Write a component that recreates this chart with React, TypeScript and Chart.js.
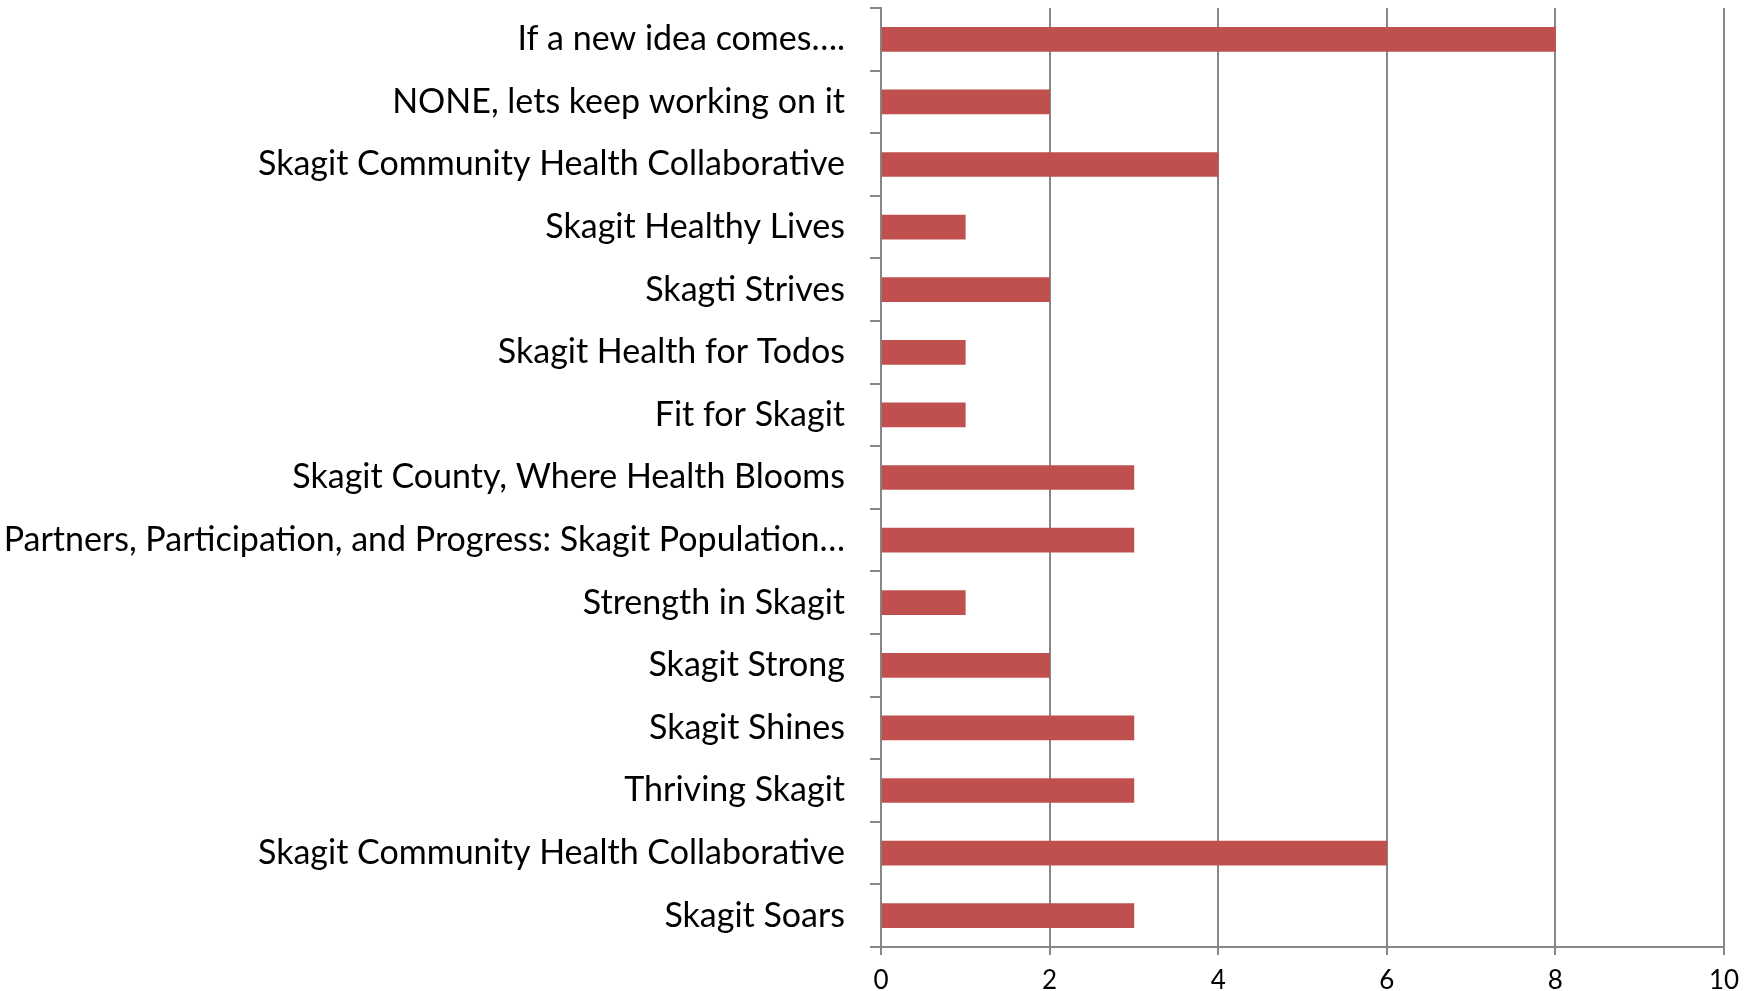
import React, { useEffect, useRef } from "react";
import { Chart, registerables } from "chart.js";

Chart.register(...registerables);

const categories: string[] = [
  "If a new idea comes….",
  "NONE, lets keep working on it",
  "Skagit Community Health Collaborative",
  "Skagit Healthy Lives",
  "Skagti Strives",
  "Skagit Health for Todos",
  "Fit for Skagit",
  "Skagit County, Where Health Blooms",
  "Partners, Participation, and Progress: Skagit Population…",
  "Strength in Skagit",
  "Skagit Strong",
  "Skagit Shines",
  "Thriving Skagit",
  "Skagit Community Health Collaborative",
  "Skagit Soars",
];

const votes: number[] = [8, 2, 4, 1, 2, 1, 1, 3, 3, 1, 2, 3, 3, 6, 3];

const xMin = 0;
const xMax = 10;
const xStep = 2;

const FONT = "Lato, 'Open Sans', sans-serif";
const GRID = "#878787";
const BAR = "#C0504D";

export default function App() {
  const ref = useRef<HTMLCanvasElement | null>(null);

  useEffect(() => {
    document.body.style.margin = "0";
    const canvas = ref.current;
    if (!canvas) return;
    const chart = new Chart(canvas, {
      type: "bar",
      data: {
        labels: categories,
        datasets: [
          {
            data: votes,
            backgroundColor: BAR,
            borderWidth: 0,
            barThickness: 24,
          },
        ],
      },
      options: {
        indexAxis: "y",
        animation: false,
        responsive: true,
        maintainAspectRatio: false,
        layout: { padding: { top: 8, right: 28, left: 0, bottom: 0 } },
        plugins: {
          legend: { display: false },
          tooltip: { enabled: false },
          title: { display: false },
        },
        scales: {
          x: {
            type: "linear",
            min: xMin,
            max: xMax,
            ticks: {
              stepSize: xStep,
              color: "#000",
              font: { family: FONT, size: 26 },
              padding: 10,
            },
            grid: {
              color: GRID,
              lineWidth: 2,
              tickLength: 8,
              drawTicks: true,
            },
            border: { display: true, color: GRID, width: 2 },
            afterFit: (scale: any) => {
              scale.height = 44;
            },
          },
          y: {
            type: "category",
            ticks: {
              color: "#000",
              font: { family: FONT, size: 34 },
              padding: 25,
              autoSkip: false,
            },
            grid: {
              offset: true,
              drawOnChartArea: false,
              color: GRID,
              lineWidth: 2,
              tickLength: 11,
            },
            border: { display: true, color: GRID, width: 2 },
            afterFit: (scale: any) => {
              scale.width = 881;
              scale.paddingTop = 0;
              scale.paddingBottom = 0;
            },
          },
        },
      },
    });
    return () => chart.destroy();
  }, []);

  return (
    <div style={{ position: "fixed", left: 0, top: 0, width: 1752, height: 991, background: "#fff" }}>
      <canvas ref={ref} />
    </div>
  );
}
